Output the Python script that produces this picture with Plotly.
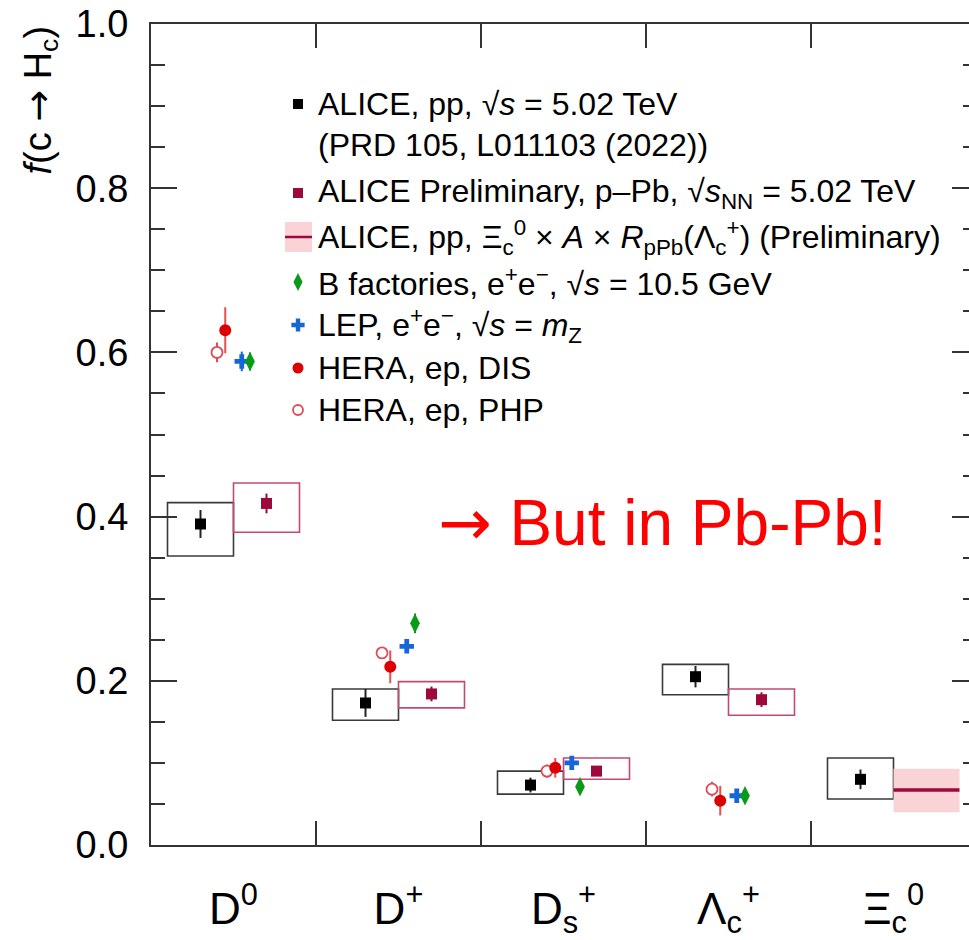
import plotly.graph_objects as go

# ---------------------------------------------------------------- data
categories = ["D<sup>0</sup>", "D<sup>+</sup>", "D<sub>s</sub><sup>+</sup>",
              "Λ<sub>c</sub><sup>+</sup>", "Ξ<sub>c</sub><sup>0</sup>"]

# ALICE, pp, sqrt(s) = 5.02 TeV (all five hadrons)
pp_val = [0.391, 0.173, 0.073, 0.205, 0.080]
pp_stat = [0.017, 0.017, 0.009, 0.013, 0.012]
pp_syst_hi = [0.026, 0.017, 0.017, 0.015, 0.026]
pp_syst_lo = [0.039, 0.021, 0.011, 0.022, 0.024]

# ALICE Preliminary, p-Pb, sqrt(sNN) = 5.02 TeV (D0, D+, Ds+, Lc+)
ppb_val = [0.416, 0.184, 0.090, 0.177]
ppb_stat = [0.012, 0.009, 0.006, 0.009]
ppb_syst_hi = [0.025, 0.015, 0.016, 0.013]
ppb_syst_lo = [0.035, 0.017, 0.010, 0.019]

# ALICE, pp, Xi_c0 x A x RpPb(Lc+) (Preliminary), at the Xi_c0 slot
xi_idx = 4
xi_val = 0.067
xi_lo = 0.040
xi_hi = 0.093

# e+e- and ep references (D0, D+, Ds+, Lc+)
bfac_val = [0.589, 0.270, 0.071, 0.060]
bfac_err = [0.011, 0.012, 0.009, 0.006]
lep_val = [0.589, 0.242, 0.100, 0.060]
lep_err = [0.012, 0.008, 0.008, 0.006]
dis_val = [0.627, 0.217, 0.094, 0.054]
dis_err = [0.028, 0.020, 0.012, 0.018]
php_val = [0.600, 0.234, 0.090, 0.068]
php_err = [0.012, 0.007, 0.008, 0.009]

ARROW = '<span style="font-family:DejaVu Sans">→</span>'

legend_rows = [
    "ALICE, pp, √<i>s</i> = 5.02 TeV",
    "(PRD 105, L011103 (2022))",
    "ALICE Preliminary, p–Pb, √<i>s</i><sub>NN</sub> = 5.02 TeV",
    "ALICE, pp, Ξ<sub>c</sub><sup>0</sup> × <i>A</i> × <i>R</i><sub>pPb</sub>(Λ<sub>c</sub><sup>+</sup>) (Preliminary)",
    "B factories, e<sup>+</sup>e<sup>−</sup>, √<i>s</i> = 10.5 GeV",
    "LEP, e<sup>+</sup>e<sup>−</sup>, √<i>s</i> = <i>m</i><sub>Z</sub>",
    "HERA, ep, DIS",
    "HERA, ep, PHP",
]

# ---------------------------------------------------------------- style
FONT = "Liberation Sans, Arial, Helvetica, sans-serif"
W, H = 969, 940
ML, MT, MB = 151, 24, 95
AX = "#333333"
C_PP = "#000000"
C_PPB = "#9C0A3C"
C_PPB_BOX = "#C24A72"
C_BAND = "#F9D3D6"
C_BFAC = "#0A9A1A"
C_LEP = "#1566D6"
C_DIS = "#DD0000"
C_PHP = "#E04A52"

# horizontal placement inside each category slot
OFF_PP, OFF_PPB = -0.2, 0.2
BOX_HALF = 0.2
OFF_PHP, OFF_DIS, OFF_LEP, OFF_BFAC = -0.1, -0.05, 0.05, 0.1

x_right = -0.5 + (W - ML) / 165.0  # one category slot spans 165 px

idx4 = list(range(4))
idx5 = list(range(5))

fig = go.Figure()

# systematic boxes
shapes = []
for i in idx5:
    shapes.append(dict(type="rect", xref="x", yref="y", layer="below",
                       x0=i + OFF_PP - BOX_HALF, x1=i + OFF_PP + BOX_HALF,
                       y0=pp_val[i] - pp_syst_lo[i], y1=pp_val[i] + pp_syst_hi[i],
                       line=dict(color="#3a3a3a", width=1.6), fillcolor="rgba(0,0,0,0)"))
for i in idx4:
    shapes.append(dict(type="rect", xref="x", yref="y", layer="below",
                       x0=i + OFF_PPB - BOX_HALF, x1=i + OFF_PPB + BOX_HALF,
                       y0=ppb_val[i] - ppb_syst_lo[i], y1=ppb_val[i] + ppb_syst_hi[i],
                       line=dict(color=C_PPB_BOX, width=1.6), fillcolor="rgba(0,0,0,0)"))
# Xi_c0 x A x RpPb band
shapes.append(dict(type="rect", xref="x", yref="y", layer="below",
                   x0=xi_idx, x1=xi_idx + 2 * BOX_HALF, y0=xi_lo, y1=xi_hi,
                   line=dict(width=0), fillcolor=C_BAND))

fig.add_trace(go.Scatter(
    x=[xi_idx, xi_idx + 2 * BOX_HALF], y=[xi_val, xi_val], mode="lines",
    line=dict(color=C_PPB, width=3.5), showlegend=False, hoverinfo="skip"))


def points(xs, ys, err, color, symbol, size, errminus=None, line=None, ecolor=None):
    ed = dict(type="data", array=err, thickness=2, width=0, color=ecolor or color)
    if errminus is not None:
        ed["symmetric"] = False
        ed["arrayminus"] = errminus
    mk = dict(color=color, symbol=symbol, size=size)
    if line is not None:
        mk["line"] = line
    return go.Scatter(x=xs, y=ys, mode="markers", marker=mk, error_y=ed,
                      showlegend=False)


# open circle: white-filled so the error bar stays outside the ring
fig.add_trace(points([i + OFF_PHP for i in idx4], php_val, php_err, "white",
                     "circle", 11, line=dict(width=1.8, color=C_PHP), ecolor=C_PHP))
fig.add_trace(points([i + OFF_DIS for i in idx4], dis_val, dis_err, C_DIS,
                     "circle", 12, ecolor="#E65050", line=dict(width=0)))
fig.add_trace(points([i + OFF_LEP for i in idx4], lep_val, lep_err, C_LEP,
                     "cross", 12, line=dict(width=0)))
fig.add_trace(points([i + OFF_BFAC for i in idx4], bfac_val, bfac_err, C_BFAC,
                     "diamond-tall", 14, line=dict(width=0)))
fig.add_trace(points([i + OFF_PP for i in idx5], pp_val, pp_stat, C_PP,
                     "square", 11, line=dict(width=0), ecolor="#222222"))
fig.add_trace(points([i + OFF_PPB for i in idx4], ppb_val, ppb_stat, C_PPB,
                     "square", 11, line=dict(width=0)))

# frame helpers: boundary ticks between categories, right-hand ticks
fig.add_trace(go.Scatter(x=[0], y=[0], xaxis="x2", yaxis="y2", mode="markers",
                         marker=dict(opacity=0), showlegend=False, hoverinfo="skip"))

# ---------------------------------------------------------------- key
def px_x(p):
    return (p - ML) / (W - ML)


def px_y(p):
    return (H - MB - p) / (H - MB - MT)


key_x = 298
text_x = 316
row_y = [104, 145, 193, 237, 282, 325, 368, 410]
key_style = [
    dict(color=C_PP, symbol="square", size=10),
    None,
    dict(color=C_PPB, symbol="square", size=10),
    "band",
    dict(color=C_BFAC, symbol="diamond-tall", size=13),
    dict(color=C_LEP, symbol="cross", size=11),
    dict(color=C_DIS, symbol="circle", size=11),
    dict(color="white", symbol="circle", size=10, line=dict(color=C_PHP, width=1.8)),
]
for txt, yy, st in zip(legend_rows, row_y, key_style):
    if isinstance(st, dict):
        fig.add_trace(go.Scatter(x=[key_x], y=[yy], xaxis="x3", yaxis="y3",
                                 mode="markers", marker=st, showlegend=False,
                                 hoverinfo="skip"))
    elif st == "band":
        shapes.append(dict(type="rect", xref="paper", yref="paper",
                           x0=px_x(285), x1=px_x(312), y0=px_y(yy + 15), y1=px_y(yy - 15),
                           line=dict(width=0), fillcolor=C_BAND))
        shapes.append(dict(type="line", xref="paper", yref="paper",
                           x0=px_x(285), x1=px_x(312), y0=px_y(yy), y1=px_y(yy),
                           line=dict(color=C_PPB, width=2.5)))

annotations = []
for txt, yy in zip(legend_rows, row_y):
    annotations.append(dict(text=txt, xref="paper", yref="paper", x=px_x(text_x),
                            y=px_y(yy), xanchor="left", yanchor="middle",
                            showarrow=False, font=dict(family=FONT, size=32, color="black")))

annotations.append(dict(text=ARROW + " But in Pb-Pb!", xref="paper", yref="paper",
                        x=px_x(662), y=px_y(523), xanchor="center", yanchor="middle",
                        showarrow=False, font=dict(family=FONT, size=64, color="#FF0000")))

annotations.append(dict(text="<i>f</i>(c " + ARROW + " H<sub>c</sub>)", xref="paper",
                        yref="paper", x=px_x(40), y=1.0, xanchor="center", yanchor="top",
                        textangle=-90, showarrow=False,
                        font=dict(family=FONT, size=38, color="black")))

# ---------------------------------------------------------------- layout
fig.update_layout(
    width=W, height=H,
    margin=dict(l=ML, r=0, t=MT, b=MB, pad=0, autoexpand=False),
    paper_bgcolor="white", plot_bgcolor="white",
    font=dict(family=FONT, color="black"),
    showlegend=False,
    shapes=shapes,
    annotations=annotations,
    xaxis=dict(range=[-0.5, x_right], tickmode="array", tickvals=idx5,
               ticktext=categories, ticks="", showgrid=False, zeroline=False,
               showline=True, linecolor=AX, linewidth=2, automargin=False,
               tickfont=dict(family=FONT, size=44, color="black"),
               ticklabelstandoff=24),
    xaxis2=dict(range=[-0.5, x_right], overlaying="x", anchor="y2", side="bottom",
                tickmode="array", tickvals=[0.5, 1.5, 2.5, 3.5],
                ticks="inside", ticklen=24, tickwidth=1.5, tickcolor=AX,
                showticklabels=False, showgrid=False, zeroline=False, automargin=False,
                showline=True, linecolor=AX, linewidth=2, mirror="ticks"),
    xaxis3=dict(range=[ML, W], overlaying="x", anchor="y3", visible=False),
    yaxis=dict(range=[0, 1], tickmode="linear", tick0=0, dtick=0.2, tickformat=".1f",
               ticks="inside", ticklen=26, tickwidth=1.5, tickcolor=AX,
               minor=dict(tickmode="linear", tick0=0, dtick=0.05, ticks="inside",
                          ticklen=14, tickwidth=1.5, tickcolor=AX, showgrid=False),
               showgrid=False, zeroline=False, showline=True, linecolor=AX,
               linewidth=2, tickfont=dict(family=FONT, size=38, color="black"),
               ticklabelstandoff=13, automargin=False),
    yaxis2=dict(range=[0, 1], overlaying="y", anchor="x2", side="right",
                tickmode="linear", tick0=0, dtick=0.2,
                ticks="inside", ticklen=17, tickwidth=1.5, tickcolor=AX,
                minor=dict(tickmode="linear", tick0=0, dtick=0.05, ticks="inside",
                           ticklen=6, tickwidth=1.5, tickcolor=AX, showgrid=False),
                showticklabels=False, showgrid=False, zeroline=False, showline=False,
                automargin=False),
    yaxis3=dict(range=[H - MB, MT], overlaying="y", anchor="x3", visible=False),
)

fig.write_html("out.html")
